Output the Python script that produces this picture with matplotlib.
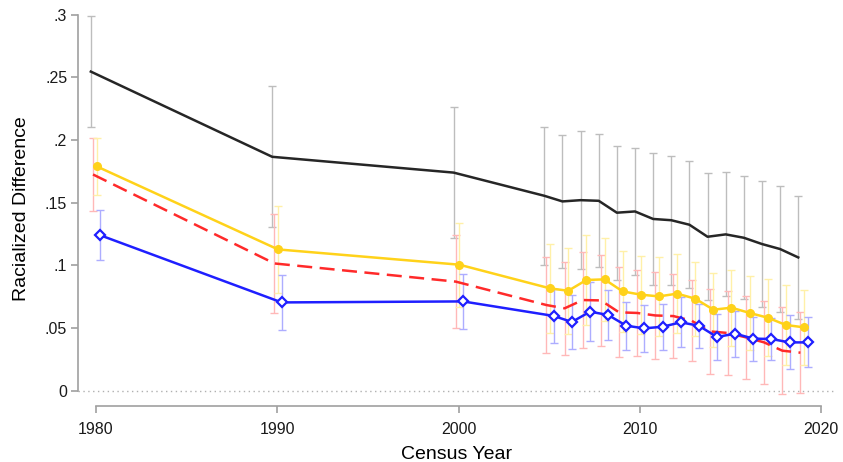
import matplotlib.pyplot as plt
import numpy as np

plt.rcParams['font.family'] = ['Liberation Sans', 'DejaVu Sans']

# Census years
years = [1980, 1990, 2000] + list(range(2005, 2020))

# Black series (point estimate, half-width of CI)
black = [0.2546, 0.1866, 0.174, 0.1555, 0.151, 0.152, 0.1515, 0.142, 0.143,
         0.137, 0.136, 0.1324, 0.1228, 0.1247, 0.122, 0.117, 0.113, 0.1063]
black_err = [0.0444, 0.0564, 0.0525, 0.055, 0.053, 0.0553, 0.0532, 0.0536, 0.051,
             0.0525, 0.0514, 0.0508, 0.0508, 0.0494, 0.0492, 0.0505, 0.0505, 0.0494]

# Red dashed series
red = [0.1725, 0.1015, 0.087, 0.0683, 0.0657, 0.0723, 0.072, 0.0625, 0.062,
       0.060, 0.0595, 0.0558, 0.0473, 0.046, 0.0425, 0.0385, 0.0319, 0.0303]
red_err = [0.0295, 0.0395, 0.037, 0.0385, 0.0373, 0.0385, 0.0361, 0.0359, 0.0341,
           0.0347, 0.0332, 0.0324, 0.034, 0.0332, 0.0329, 0.0332, 0.0346, 0.0322]

# Yellow series
yellow = [0.179, 0.1127, 0.1005, 0.0816, 0.0797, 0.0883, 0.0888, 0.0792, 0.0766,
          0.0752, 0.0774, 0.0734, 0.0646, 0.0662, 0.062, 0.0582, 0.0524, 0.0505]
yellow_err = [0.023, 0.0348, 0.0335, 0.0354, 0.0343, 0.0357, 0.0332, 0.0324, 0.0311,
              0.0317, 0.0313, 0.0295, 0.0294, 0.0303, 0.0297, 0.0306, 0.0321, 0.0298]

# Blue series
blue = [0.124, 0.0704, 0.0712, 0.0596, 0.0548, 0.063, 0.0604, 0.0518, 0.0497,
        0.051, 0.0545, 0.0518, 0.0428, 0.0455, 0.0415, 0.0412, 0.0385, 0.0385]
blue_err = [0.020, 0.0221, 0.0218, 0.0216, 0.0218, 0.0234, 0.0197, 0.0191, 0.0186,
            0.0183, 0.02, 0.0175, 0.0183, 0.0184, 0.0176, 0.017, 0.0215, 0.0199]

yticks = [0, 0.05, 0.1, 0.15, 0.2, 0.25, 0.3]
ytick_labels = ["0", ".05", ".1", ".15", ".2", ".25", ".3"]
xticks = [1980, 1990, 2000, 2010, 2020]

fig = plt.figure(figsize=(8.43, 4.62), dpi=100)
ax = fig.add_axes([0.0929, 0.1219, 0.8964, 0.8517])

yrs = np.array(years, dtype=float)
series = [
    # values, errors, x-offset, line colour, errorbar colour, style
    (black, black_err, -0.27, '#262626', '#bdbdbd', dict(ls='-')),
    (red, red_err, -0.15, '#ff2a2a', '#ffb8b8', dict(ls=(0, (6, 3)))),
    (yellow, yellow_err, 0.05, '#ffd21a', '#fff0a8', dict(ls='-', marker='o', ms=5.5)),
    (blue, blue_err, 0.25, '#1f1fff', '#adadff',
     dict(ls='-', marker='D', ms=5.5, mfc='white', mew=1.6)),
]

# error bars first, lines on top
for vals, errs, off, lc, ec, st in series:
    ax.errorbar(yrs + off, vals, yerr=errs, fmt='none', ecolor=ec,
                elinewidth=1.0, capsize=3, capthick=1.0, zorder=2)

for vals, errs, off, lc, ec, st in series:
    ax.plot(yrs + off, vals, color=lc, lw=1.8, zorder=3, **st)

ax.axhline(0, color='#b0b0b0', lw=1.0, ls=(0, (1, 2.5)), zorder=1)

ax.set_xlim(1979.04, 2020.7)
ax.set_ylim(-0.012, 0.302)
ax.set_yticks(yticks)
ax.set_yticklabels(ytick_labels)
ax.set_xticks(xticks)

for s in ['top', 'right']:
    ax.spines[s].set_visible(False)
ax.spines['left'].set_bounds(0, 0.3)
ax.spines['bottom'].set_bounds(1980, 2020)
for s in ['left', 'bottom']:
    ax.spines[s].set_color('#a0a0a0')
    ax.spines[s].set_linewidth(1.2)

ax.tick_params(axis='both', direction='out', length=5, width=1.2,
               color='#a0a0a0', labelsize=11.5, labelcolor='#1a1a1a')
ax.tick_params(axis='y', pad=3)
ax.tick_params(axis='x', pad=7)

ax.set_xlabel("Census Year", fontsize=14, labelpad=6)
ax.set_ylabel("Racialized Difference", fontsize=14, labelpad=11)

fig.savefig("out.png", dpi=100)
